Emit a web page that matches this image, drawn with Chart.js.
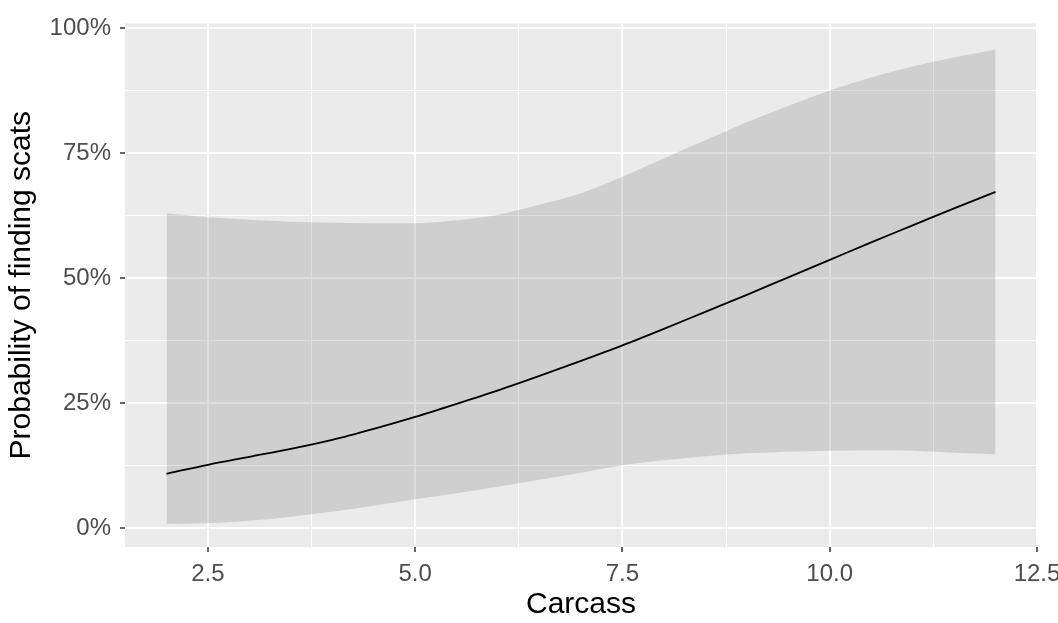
<!DOCTYPE html>
<html>
<head>
<meta charset="utf-8">
<script src="https://cdn.jsdelivr.net/npm/chart.js@4.4.1/dist/chart.umd.min.js"></script>
<style>
  html, body { margin: 0; padding: 0; background: #ffffff; }
  #wrap { width: 1058px; height: 623px; }
</style>
</head>
<body>
<div id="wrap"><canvas id="c" width="1058" height="623"></canvas></div>
<script>
// ---- data ----
const carcass = [2, 2.5, 3, 3.5, 4, 4.5, 5, 5.5, 6, 6.5, 7, 7.5, 8, 8.5, 9, 9.5, 10, 10.5, 11, 11.5, 12];
const fitProb = [0.109, 0.127, 0.143, 0.159, 0.177, 0.199, 0.223, 0.249, 0.276, 0.305, 0.335, 0.366, 0.399, 0.433, 0.467, 0.502, 0.537, 0.572, 0.606, 0.640, 0.673];
const upperCI = [0.630, 0.622, 0.617, 0.613, 0.611, 0.610, 0.610, 0.616, 0.627, 0.647, 0.670, 0.703, 0.740, 0.776, 0.812, 0.845, 0.876, 0.902, 0.924, 0.942, 0.958];
const lowerCI = [0.009, 0.010, 0.015, 0.023, 0.033, 0.045, 0.058, 0.070, 0.083, 0.097, 0.111, 0.126, 0.136, 0.144, 0.150, 0.153, 0.155, 0.156, 0.155, 0.151, 0.148];

const xMajorTicks = [2.5, 5, 7.5, 10, 12.5];
const xTickLabels = ['2.5', '5.0', '7.5', '10.0', '12.5'];
const xMinorTicks = [3.75, 6.25, 8.75, 11.25];
const yMajorTicks = [0, 0.25, 0.5, 0.75, 1];
const yTickLabels = ['0%', '25%', '50%', '75%', '100%'];
const yMinorTicks = [0.125, 0.375, 0.625, 0.875];

const xTitle = 'Carcass';
const yTitle = 'Probability of finding scats';

// ---- helpers ----
function pts(xs, ys) { return xs.map((x, i) => ({ x: x, y: ys[i] })); }
function buildTicks(major, minor) {
  return major.concat(minor).sort((a, b) => a - b).map(v => ({ value: v }));
}
function isMajor(list, v) { return list.some(m => Math.abs(m - v) < 1e-9); }
function labelFor(list, labels, v) {
  const i = list.findIndex(m => Math.abs(m - v) < 1e-9);
  return i >= 0 ? labels[i] : '';
}

const FONT = "'Liberation Sans', Arial, sans-serif";

const panelBg = {
  id: 'panelBg',
  beforeDraw(chart) {
    const a = chart.chartArea, ctx = chart.ctx;
    ctx.save();
    ctx.fillStyle = '#EBEBEB';
    ctx.fillRect(a.left, a.top, a.right - a.left, a.bottom - a.top);
    ctx.restore();
  }
};

new Chart(document.getElementById('c'), {
  type: 'line',
  data: {
    datasets: [
      {
        label: 'fit',
        data: pts(carcass, fitProb),
        borderColor: '#000000',
        borderWidth: 1.8,
        pointRadius: 0,
        fill: false,
        cubicInterpolationMode: 'monotone'
      },
      {
        label: 'upper',
        data: pts(carcass, upperCI),
        borderWidth: 0,
        borderColor: 'rgba(0,0,0,0)',
        pointRadius: 0,
        backgroundColor: 'rgba(153,153,153,0.33)',
        fill: '+1',
        cubicInterpolationMode: 'monotone'
      },
      {
        label: 'lower',
        data: pts(carcass, lowerCI),
        borderWidth: 0,
        borderColor: 'rgba(0,0,0,0)',
        pointRadius: 0,
        fill: false,
        cubicInterpolationMode: 'monotone'
      }
    ]
  },
  options: {
    responsive: false,
    animation: false,
    events: [],
    layout: { padding: { top: 17, left: 0, right: 0, bottom: 0 } },
    plugins: { legend: { display: false }, tooltip: { enabled: false } },
    scales: {
      x: {
        type: 'linear',
        min: 1.5,
        max: 12.5,
        afterBuildTicks(scale) { scale.ticks = buildTicks(xMajorTicks, xMinorTicks); },
        afterFit(scale) { scale.height = 76; scale.paddingRight = 21; },
        border: { display: false },
        grid: {
          color: '#FFFFFF',
          lineWidth: ctx => isMajor(xMajorTicks, ctx.tick.value) ? 2 : 1,
          drawTicks: true,
          tickLength: 5,
          tickWidth: 1.5,
          tickColor: ctx => isMajor(xMajorTicks, ctx.tick.value) ? '#333333' : 'rgba(0,0,0,0)'
        },
        ticks: {
          autoSkip: false,
          maxRotation: 0,
          padding: 8,
          color: '#4D4D4D',
          font: { family: FONT, size: 24 },
          callback: v => labelFor(xMajorTicks, xTickLabels, v)
        },
        title: {
          display: true,
          text: xTitle,
          color: '#000000',
          font: { family: FONT, size: 30 },
          padding: { top: 0, bottom: 0 }
        }
      },
      y: {
        type: 'linear',
        min: -0.0375,
        max: 1.01,
        afterBuildTicks(scale) { scale.ticks = buildTicks(yMajorTicks, yMinorTicks); },
        afterFit(scale) { scale.width = 125; },
        border: { display: false },
        grid: {
          color: '#FFFFFF',
          lineWidth: ctx => isMajor(yMajorTicks, ctx.tick.value) ? 2 : 1,
          drawTicks: true,
          tickLength: 5,
          tickWidth: 1.5,
          tickColor: ctx => isMajor(yMajorTicks, ctx.tick.value) ? '#333333' : 'rgba(0,0,0,0)'
        },
        ticks: {
          autoSkip: false,
          padding: 9,
          color: '#4D4D4D',
          font: { family: FONT, size: 24 },
          callback: v => labelFor(yMajorTicks, yTickLabels, v)
        },
        title: {
          display: true,
          text: yTitle,
          color: '#000000',
          font: { family: FONT, size: 30 },
          padding: { top: 4, bottom: 0 }
        }
      }
    }
  },
  plugins: [panelBg]
});
</script>
</body>
</html>
